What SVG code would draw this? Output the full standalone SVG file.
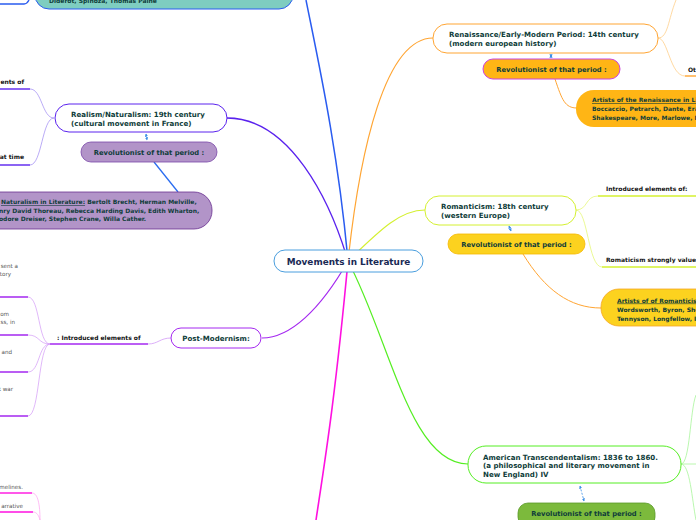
<svg xmlns="http://www.w3.org/2000/svg" width="696" height="520" viewBox="0 0 696 520">
<defs>
<style>
.t{font-family:"DejaVu Sans",Verdana,sans-serif;font-weight:bold;font-size:7.05px;fill:#0f3d3a}
.r{font-family:"DejaVu Sans",Verdana,sans-serif;font-weight:bold;font-size:6.75px;fill:#0f3d3a}
.a{font-family:"DejaVu Sans",Verdana,sans-serif;font-weight:bold;font-size:6px;fill:#0f3d3a}
.l{font-family:"DejaVu Sans",Verdana,sans-serif;font-weight:bold;font-size:6px;fill:#111}
.g{font-family:"DejaVu Sans",Verdana,sans-serif;font-size:5.6px;fill:#555}
.dash{fill:none;stroke:#3a8ee6;stroke-width:0.8;stroke-dasharray:2,1.5;marker-start:url(#ah);marker-end:url(#ah)}
</style>
<marker id="ah" viewBox="0 0 6 6" refX="5" refY="3" markerWidth="4" markerHeight="4" orient="auto-start-reverse">
<path d="M0,0 L6,3 L0,6 Z" fill="#3a8ee6"/>
</marker>
</defs>

<g id="connectors" fill="none">
<path d="M348,261 C338,150 318,60 306,0" stroke="#2a5cf0" stroke-width="1.5"/>
<path d="M227,118 C290,118 330,200 348,261" stroke="#5a22ee" stroke-width="1.3"/>
<path d="M348,261 C360,150 385,38 433,38" stroke="#ffa533" stroke-width="1.2"/>
<path d="M348,261 C380,230 400,210 425,210" stroke="#d4f030" stroke-width="1.2"/>
<path d="M348,261 C320,310 290,338 262,338" stroke="#a428f0" stroke-width="1.2"/>
<path d="M348,261 C335,400 325,460 316,520" stroke="#ff10e0" stroke-width="1.6"/>
<path d="M348,261 C390,340 410,464 468,464" stroke="#55ee22" stroke-width="1.2"/>
<path d="M154,162 L178,192" stroke="#2a6cf0" stroke-width="1.3"/>
<path d="M555,79 C562,100 565,108 577,108" stroke="#ffa533" stroke-width="1"/>
<path d="M523,254 C545,290 570,308 601,308" stroke="#ffa533" stroke-width="1"/>
<path d="M0,4 L24,4 Q27,4 29,0" stroke="#2a5cf0" stroke-width="1.3"/>
<path d="M54,118 C42,118 42,89 30,89" stroke="#9c86f2" stroke-width="0.7"/>
<path d="M30,89 L0,89" stroke="#5a22ee" stroke-width="1.4"/>
<path d="M54,118 C42,118 42,165 30,165" stroke="#9c86f2" stroke-width="0.7"/>
<path d="M30,165 L0,165" stroke="#5a22ee" stroke-width="1.4"/>
<path d="M658,38 C668,38 668,20 676,0" stroke="#ffcf8a" stroke-width="0.8"/>
<path d="M658,38 C668,38 670,76 685,76" stroke="#ffcf8a" stroke-width="0.8"/>
<path d="M685,76 L696,76" stroke="#ffa533" stroke-width="1.4"/>
<path d="M576,210 C588,210 585,196 598,196" stroke="#e6f77a" stroke-width="0.8"/>
<path d="M598,196 L696,196" stroke="#d4f030" stroke-width="1.4"/>
<path d="M576,210 C588,210 588,267 602,267" stroke="#e6f77a" stroke-width="0.8"/>
<path d="M602,267 L696,267" stroke="#d4f030" stroke-width="1.4"/>
<path d="M171,338 C160,338 158,344 148,344" stroke="#d39af7" stroke-width="0.8"/>
<path d="M148,344 L50,344" stroke="#a428f0" stroke-width="1.4"/>
<path d="M50,344 C38,344 40,297 28,297" stroke="#d39af7" stroke-width="0.7"/>
<path d="M50,344 C38,344 40,335 28,335" stroke="#d39af7" stroke-width="0.7"/>
<path d="M50,344 C38,344 40,372 28,372" stroke="#d39af7" stroke-width="0.7"/>
<path d="M50,344 C38,344 40,416 28,416" stroke="#d39af7" stroke-width="0.7"/>
<path d="M28,297 L0,297 M28,335 L0,335 M28,372 L0,372 M28,416 L0,416" stroke="#a428f0" stroke-width="1.4"/>
<path d="M0,493 L32,493" stroke="#ff10e0" stroke-width="1.4"/>
<path d="M32,493 C38,493 40,505 40,520" stroke="#ffa0f0" stroke-width="0.7"/>
<path d="M0,512 L33,512" stroke="#ff10e0" stroke-width="1.4"/>
<path d="M33,512 C37,512 39,516 40,520" stroke="#ffa0f0" stroke-width="0.7"/>
<path d="M681,464 C690,464 690,410 696,395" stroke="#a8f59a" stroke-width="0.8"/>
<path d="M681,464 L696,464" stroke="#a8f59a" stroke-width="0.8"/>
<path d="M681,464 C690,464 692,500 696,520" stroke="#a8f59a" stroke-width="0.8"/>
<path class="dash" d="M146,134 L147,140"/>
<path class="dash" d="M551,55 L551,57"/>
<path class="dash" d="M509,226 L511,231"/>
<path class="dash" d="M580,486 L584,501"/>
</g>

<g id="center">
<rect x="274" y="250" width="149" height="22" rx="11" fill="#fff" stroke="#4a9ede" stroke-width="1"/>
<text x="348.5" y="264.5" text-anchor="middle" font-family="DejaVu Sans,Verdana,sans-serif" font-weight="bold" font-size="8.9" fill="#1a2a55">Movements in Literature</text>
</g>

<g id="enlightenment-artists">
<rect x="35" y="-30" width="258" height="39" rx="14" fill="#7ecdc0" stroke="#2a5cf0" stroke-width="1"/>
<text class="a" x="49" y="2.5">Diderot, Spinoza, Thomas Paine</text>
</g>

<g id="realism">
<rect x="55" y="104" width="172" height="28" rx="14" fill="#fff" stroke="#5a22ee" stroke-width="1"/>
<text class="t" x="71" y="117">Realism/Naturalism: 19th century</text>
<text class="t" x="71" y="125.5">(cultural movement in France)</text>
</g>
<g id="realism-rev">
<rect x="81" y="142" width="136" height="20" rx="10" fill="#b294c8" stroke="#7a48a8" stroke-width="0.8"/>
<text class="r" x="149" y="155" text-anchor="middle">Revolutionist of that period :</text>
</g>
<g id="realism-artists">
<rect x="-40" y="192" width="252" height="37" rx="18" fill="#b294c8" stroke="#6a3090" stroke-width="0.8"/>
<text class="a" x="1" y="204"><tspan text-decoration="underline">Naturalism in Literature:</tspan> Bertolt Brecht, Herman Melville,</text>
<text class="a" x="-1" y="212.5">nry David Thoreau, Rebecca Harding Davis, Edith Wharton,</text>
<text class="a" x="-1" y="221">odore Dreiser, Stephen Crane, Willa Cather.</text>
</g>
<g id="realism-labels">
<text class="l" x="24" y="84" text-anchor="end">ents of</text>
<text class="l" x="24" y="159" text-anchor="end">at time</text>
</g>

<g id="renaissance">
<rect x="433" y="24" width="225" height="29" rx="14" fill="#fff" stroke="#ffa533" stroke-width="1"/>
<text class="t" x="449" y="36.5">Renaissance/Early-Modern Period: 14th century</text>
<text class="t" x="449" y="45.5">(modern european history)</text>
</g>
<g id="renaissance-rev">
<rect x="483" y="59" width="137" height="20" rx="10" fill="#ffb515" stroke="#cc44dd" stroke-width="1"/>
<text class="r" x="551.5" y="72" text-anchor="middle">Revolutionist of that period :</text>
</g>
<g id="renaissance-artists">
<rect x="576" y="90" width="160" height="37" rx="18" fill="#ffb515"/>
<text class="a" x="592" y="102" text-decoration="underline">Artists of the Renaissance in Li</text>
<text class="a" x="592" y="111">Boccaccio, Petrarch, Dante, Era</text>
<text class="a" x="592" y="120">Shakespeare, More, Marlowe, M</text>
</g>
<g id="renaissance-labels">
<text class="l" x="688" y="71.5">Ot</text>
</g>

<g id="romanticism">
<rect x="425" y="196" width="151" height="29" rx="14" fill="#fff" stroke="#d4f030" stroke-width="1"/>
<text class="t" x="441" y="208.5">Romanticism: 18th century</text>
<text class="t" x="441" y="217.5">(western Europe)</text>
</g>
<g id="romanticism-rev">
<rect x="448" y="234" width="137" height="20" rx="10" fill="#fcd21f" stroke="#f5b800" stroke-width="0.8"/>
<text class="r" x="516.5" y="247" text-anchor="middle">Revolutionist of that period :</text>
</g>
<g id="romanticism-artists">
<rect x="601" y="289" width="140" height="37" rx="18" fill="#fcd21f" stroke="#f5a623" stroke-width="0.8"/>
<text class="a" x="617" y="302.5" text-decoration="underline">Artists of of Romanticis</text>
<text class="a" x="617" y="311.5">Wordsworth, Byron, She</text>
<text class="a" x="617" y="320.5">Tennyson, Longfellow, I</text>
</g>
<g id="romanticism-labels">
<text class="l" x="606" y="191">Introduced elements of:</text>
<text class="l" x="606" y="262">Romaticism strongly values</text>
</g>

<g id="postmodernism">
<rect x="171" y="328" width="90" height="20" rx="10" fill="#fff" stroke="#a428f0" stroke-width="1"/>
<text class="t" x="216" y="340.5" text-anchor="middle">Post-Modernism:</text>
</g>
<g id="postmodernism-labels">
<text class="l" x="57" y="339.5">: Introduced elements of</text>
<text class="g" x="18" y="267.5" text-anchor="end">sent a</text>
<text class="g" x="11" y="275.5" text-anchor="end">tory</text>
<text class="g" x="9" y="316" text-anchor="end">om</text>
<text class="g" x="15" y="323.5" text-anchor="end">ss, in</text>
<text class="g" x="12" y="354" text-anchor="end">and</text>
<text class="g" x="13" y="391" text-anchor="end">t war</text>
<text class="g" x="23" y="488.5" text-anchor="end">melines.</text>
<text class="g" x="23" y="507.5" text-anchor="end">arrative</text>
</g>

<g id="transcendentalism">
<rect x="468" y="446" width="213" height="37" rx="18" fill="#fff" stroke="#55ee22" stroke-width="1"/>
<text class="t" x="483" y="459.5">American Transcendentalism: 1836 to 1860.</text>
<text class="t" x="483" y="468">(a philosophical and literary movement in</text>
<text class="t" x="483" y="476.5">New England) IV</text>
</g>
<g id="transcendentalism-rev">
<rect x="518" y="503" width="137" height="24" rx="10" fill="#7cba3c" stroke="#5a9a2a" stroke-width="0.8"/>
<text class="r" x="586.5" y="516" text-anchor="middle">Revolutionist of that period :</text>
</g>
</svg>
